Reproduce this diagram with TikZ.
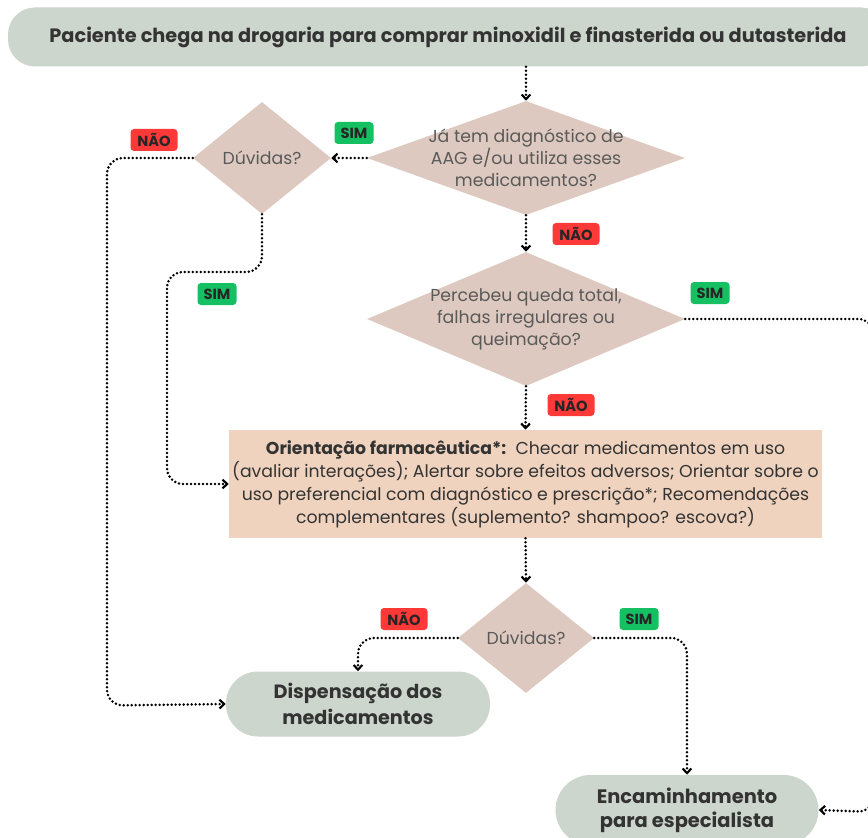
\documentclass[tikz,border=0pt]{standalone}
\usepackage{fontspec}
\setmainfont{Poppins}
\usetikzlibrary{arrows.meta,shapes.geometric,calc}
\definecolor{gbox}{HTML}{CDD6CC}
\definecolor{dia}{HTML}{DDC9BF}
\definecolor{peach}{HTML}{EFD3BE}
\definecolor{simg}{HTML}{14C062}
\definecolor{naor}{HTML}{FF3838}
\definecolor{txt}{HTML}{5A5A5A}
\definecolor{dtxt}{HTML}{333333}
\def\px{0.75pt}
\begin{document}
\begin{tikzpicture}[x=0.75pt,y=-0.75pt,
  dia/.style={diamond,fill=dia,inner sep=0pt},
  dtext/.style={align=center,text=txt,font=\fontsize{13}{16.5}\selectfont},
  pill/.style={fill=gbox,rounded corners=32*\px,align=center,text=dtxt,font=\bfseries\fontsize{14.4}{19.5}\selectfont},
  flow/.style={line width=2.8*\px,dash pattern=on 0pt off 4*\px,line cap=round,-{Straight Barb[length=3.5pt,width=6.5pt,line width=1.6pt]},rounded corners=16*\px},
  tagbase/.style={rounded corners=3.5*\px,inner sep=0pt,minimum height=22*\px,font=\bfseries\fontsize{11}{12}\selectfont,text=black!85},
  sim/.style={tagbase,fill=simg,minimum width=39*\px},
  nao/.style={tagbase,fill=naor,minimum width=47*\px}]
\clip (0,0) rectangle (868,838);
\fill[white] (0,0) rectangle (868,838);
% nodes
\node[pill,minimum width=880*\px,minimum height=59*\px,rounded corners=27*\px,font=\bfseries\fontsize{14.5}{16}\selectfont] (title) at (448,37) {Paciente chega na drogaria para comprar minoxidil e finasterida ou dutasterida};
\node[dia,minimum width=318*\px,minimum height=114*\px] (d1) at (526,158) {};
\node[dtext] (t1) at (d1.center) {Já tem diagnóstico de\\AAG e/ou utiliza esses\\medicamentos?};
\node[dia,minimum width=138*\px,minimum height=112*\px] (dv1) at (262,158) {};
\node[dtext] (tv1) at (dv1.center) {Dúvidas?};
\node[dia,minimum width=318*\px,minimum height=134*\px] (d2) at (526,319) {};
\node[dtext] (t2) at (d2.center) {Percebeu queda total,\\falhas irregulares ou\\queimação?};
\node[fill=peach,minimum width=593*\px,minimum height=108*\px,inner sep=0pt] (box) at (525.5,484) {};
\node[align=center,text=dtxt,font=\fontsize{12.95}{17.3}\selectfont] (tb) at (box.center) {\textbf{Orientação farmacêutica*:}\ \ Checar medicamentos em uso\\(avaliar interações); Alertar sobre efeitos adversos; Orientar sobre o\\uso preferencial com diagnóstico e prescrição*; Recomendações\\complementares (suplemento? shampoo? escova?)};
\node[dia,minimum width=136*\px,minimum height=110*\px] (dv2) at (526,638) {};
\node[dtext] (tv2) at (dv2.center) {Dúvidas?};
\node[pill,minimum width=264*\px,minimum height=65*\px] (disp) at (358,704) {Dispensação dos\\medicamentos};
\node[pill,minimum width=263*\px,minimum height=70*\px,rounded corners=35*\px,font=\bfseries\fontsize{14.6}{19}\selectfont] (enc) at (687,810) {Encaminhamento\\[-1pt]para especialista};
% connectors
\draw[flow] (d1.north |- title.south) -- (d1.north);
\draw[flow,rounded corners=0pt] (d1.west) -- (dv1.east);
\draw[flow] (dv1.west) -- (107,158) -- (107,705.5) -- (disp.west);
\draw[flow] (dv1.south) -- (262,272) -- (167,272) -- (167,484) -- (box.west);
\draw[flow] (d1.south) -- (d2.north);
\draw[flow] (d2.east) -- (874,319) -- (874,812) -- (enc.east);
\draw[flow] (d2.south) -- (box.north);
\draw[flow] (box.south) -- (dv2.north);
\draw[flow] (dv2.west) -| (disp.north);
\draw[flow] (dv2.east) -| (enc.north);
% tags
\node[sim] (s1) at (354,133) {SIM};
\node[nao] (n1) at (154,140) {NÃO};
\node[sim] (s2) at (217,294) {SIM};
\node[nao] (n2) at (576,234) {NÃO};
\node[sim] (s3) at (710,293) {SIM};
\node[nao] (n3) at (571,405) {NÃO};
\node[nao] (n4) at (404,619) {NÃO};
\node[sim] (s4) at (639,619) {SIM};
\end{tikzpicture}
\end{document}
